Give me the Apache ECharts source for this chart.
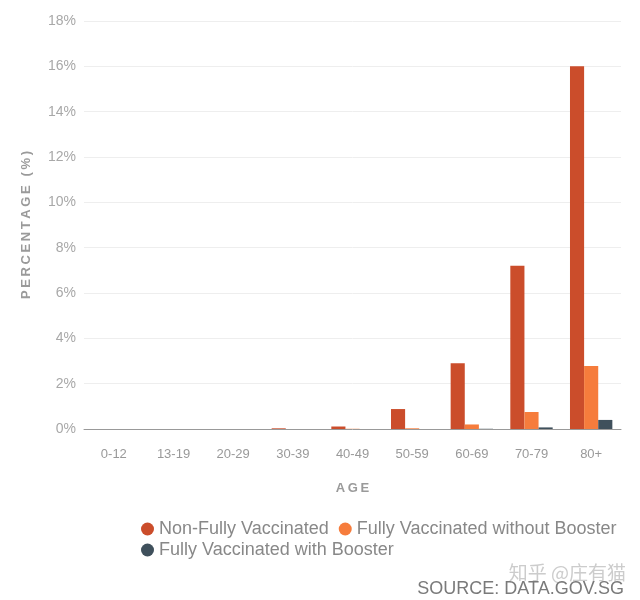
<!DOCTYPE html>
<html><head><meta charset="utf-8">
<script src="https://cdn.jsdelivr.net/npm/echarts@6/dist/echarts.min.js"></script>
<style>html,body{margin:0;padding:0;background:#fff}#c{width:640px;height:600px}</style>
</head><body><div id="c"></div>
<script>
var categories = ['0-12','13-19','20-29','30-39','40-49','50-59','60-69','70-79','80+'];
var nonFully = [0, 0, 0, 0.03, 0.11, 0.88, 2.9, 7.2, 16.0];
var fullyNoBooster = [0, 0, 0, 0, 0.01, 0.03, 0.2, 0.75, 2.78];
var fullyBooster = [0, 0, 0, 0, 0, 0, 0.01, 0.07, 0.4];
var yTicks = [0,2,4,6,8,10,12,14,16,18];

function spaced(s){ return s.split('').join('\u2009'); }
var font = 'Liberation Sans, Arial, Helvetica, sans-serif';
var legendText = {fontSize: 18, color: '#888888', fontFamily: font};
var chart = echarts.init(document.getElementById('c'));
chart.setOption({
  animation: false,
  textStyle: {fontFamily: font},
  grid: {left: 84, right: 19, top: 21, bottom: 171, containLabel: false},
  legend: [{
    left: 136, top: 515, itemWidth: 13, itemHeight: 13, itemGap: 10,
    icon: 'circle', textStyle: legendText,
    data: ['Non-Fully Vaccinated','Fully Vaccinated without Booster']
  }, {
    left: 136, top: 536, itemWidth: 13, itemHeight: 13, itemGap: 10,
    icon: 'circle', textStyle: legendText,
    data: ['Fully Vaccinated with Booster']
  }],
  xAxis: {
    type: 'category', data: categories,
    name: spaced('AGE'), nameLocation: 'middle', nameGap: 53,
    nameTextStyle: {fontSize: 13, fontWeight: 'bold', color: '#9a9a9a'},
    axisLine: {lineStyle: {color: '#999', width: 1}},
    axisTick: {alignWithLabel: true, length: 6, lineStyle: {color: '#999'}},
    axisLabel: {fontSize: 13, color: '#999', margin: 19}
  },
  yAxis: {
    type: 'value', min: 0, max: 18, interval: 2,
    name: spaced('PERCENTAGE (%)'), nameLocation: 'middle', nameGap: 51, nameRotate: 90,
    nameTextStyle: {fontSize: 13, fontWeight: 'bold', color: '#9a9a9a'},
    axisLine: {show: false}, axisTick: {show: false},
    axisLabel: {fontSize: 14, color: '#a8a8a8', margin: 8,
      formatter: function(v){ return yTicks.indexOf(v) >= 0 ? v + '%' : ''; }},
    splitLine: {lineStyle: {color: '#eeeeee'}}
  },
  series: [
    {name: 'Non-Fully Vaccinated', type: 'bar', data: nonFully, barGap: '0%', barCategoryGap: '29%', itemStyle: {color: '#CB4D2B'}},
    {name: 'Fully Vaccinated without Booster', type: 'bar', data: fullyNoBooster, itemStyle: {color: '#F67C3C'}},
    {name: 'Fully Vaccinated with Booster', type: 'bar', data: fullyBooster, itemStyle: {color: '#3F505C'}}
  ],
  graphic: [
    {type: 'text', right: 14, top: 563, style: {text: '知乎 @庄有猫', fontSize: 19, fill: '#cccccc', fontFamily: 'Noto Sans CJK SC'}},
    {type: 'text', right: 16, top: 580, style: {text: 'SOURCE: DATA.GOV.SG', fontSize: 18, fill: '#7a7a7a', fontFamily: font}}
  ]
});
</script></body></html>
